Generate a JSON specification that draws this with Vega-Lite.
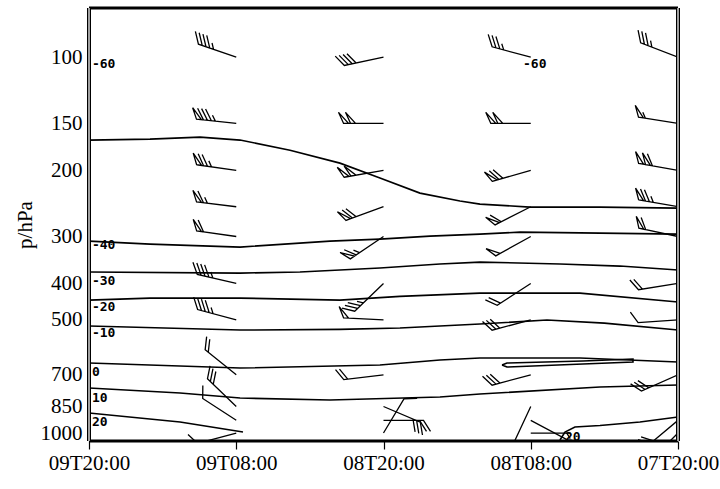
{
  "$schema": "https://vega.github.io/schema/vega-lite/v6.json",
  "width": 589,
  "height": 433,
  "autosize": {"type": "none"},
  "padding": {"left": 89, "top": 8, "right": 42, "bottom": 48},
  "background": "white",
  "config": {
    "view": {"stroke": null},
    "axis": {"grid": false}
  },
  "datasets": {
    "frame": [{"edge": "frame"}],
    "contours": [
      {"id": "m50", "i": 0, "t": 0, "p": 166.2},
      {"id": "m50", "i": 1, "t": 4.97, "p": 165.2},
      {"id": "m50", "i": 2, "t": 9.05, "p": 163.2},
      {"id": "m50", "i": 3, "t": 12.31, "p": 166.2},
      {"id": "m50", "i": 4, "t": 16.38, "p": 176.8},
      {"id": "m50", "i": 5, "t": 20.45, "p": 191.4},
      {"id": "m50", "i": 6, "t": 23.71, "p": 209.8},
      {"id": "m50", "i": 7, "t": 26.97, "p": 230},
      {"id": "m50", "i": 8, "t": 30.23, "p": 241.5},
      {"id": "m50", "i": 9, "t": 31.86, "p": 246},
      {"id": "m50", "i": 10, "t": 35.94, "p": 250.6},
      {"id": "m50", "i": 11, "t": 41.64, "p": 250.6},
      {"id": "m50", "i": 12, "t": 48, "p": 252.1},
      {"id": "m40", "i": 0, "t": 0, "p": 308.6},
      {"id": "m40", "i": 1, "t": 4.97, "p": 314.3},
      {"id": "m40", "i": 2, "t": 12.31, "p": 320.1},
      {"id": "m40", "i": 3, "t": 19.64, "p": 308.6},
      {"id": "m40", "i": 4, "t": 23.71, "p": 304.8},
      {"id": "m40", "i": 5, "t": 27.79, "p": 299.3},
      {"id": "m40", "i": 6, "t": 31.86, "p": 295.6},
      {"id": "m40", "i": 7, "t": 35.12, "p": 292},
      {"id": "m40", "i": 8, "t": 41.64, "p": 293.8},
      {"id": "m40", "i": 9, "t": 48, "p": 295.6},
      {"id": "m30", "i": 0, "t": 0, "p": 373},
      {"id": "m30", "i": 1, "t": 12.31, "p": 375.4},
      {"id": "m30", "i": 2, "t": 17.19, "p": 373},
      {"id": "m30", "i": 3, "t": 23.71, "p": 364},
      {"id": "m30", "i": 4, "t": 28.6, "p": 355.2},
      {"id": "m30", "i": 5, "t": 31.86, "p": 350.9},
      {"id": "m30", "i": 6, "t": 38.38, "p": 355.2},
      {"id": "m30", "i": 7, "t": 43.27, "p": 359.6},
      {"id": "m30", "i": 8, "t": 48, "p": 368.5},
      {"id": "m20", "i": 0, "t": 0, "p": 442.9},
      {"id": "m20", "i": 1, "t": 4.97, "p": 437.5},
      {"id": "m20", "i": 2, "t": 12.31, "p": 437.5},
      {"id": "m20", "i": 3, "t": 20.45, "p": 442.9},
      {"id": "m20", "i": 4, "t": 25.34, "p": 433},
      {"id": "m20", "i": 5, "t": 31.86, "p": 424.3},
      {"id": "m20", "i": 6, "t": 40.01, "p": 424.3},
      {"id": "m20", "i": 7, "t": 48, "p": 448.3},
      {"id": "m10", "i": 0, "t": 0, "p": 519.3},
      {"id": "m10", "i": 1, "t": 12.31, "p": 532.2},
      {"id": "m10", "i": 2, "t": 20.45, "p": 530},
      {"id": "m10", "i": 3, "t": 25.34, "p": 525.7},
      {"id": "m10", "i": 4, "t": 31.86, "p": 513},
      {"id": "m10", "i": 5, "t": 37.32, "p": 500.5},
      {"id": "m10", "i": 6, "t": 42, "p": 510},
      {"id": "m10", "i": 7, "t": 48, "p": 532.2},
      {"id": "z0", "i": 0, "t": 0, "p": 651.3},
      {"id": "z0", "i": 1, "t": 12.31, "p": 671.6},
      {"id": "z0", "i": 2, "t": 23.71, "p": 659.4},
      {"id": "z0", "i": 3, "t": 28.6, "p": 639.5},
      {"id": "z0", "i": 4, "t": 31.86, "p": 631.7},
      {"id": "z0", "i": 5, "t": 40.01, "p": 631.7},
      {"id": "z0", "i": 6, "t": 48, "p": 647.4},
      {"id": "z0loop", "i": 0, "t": 33.66, "p": 659.4},
      {"id": "z0loop", "i": 1, "t": 34.06, "p": 651.3},
      {"id": "z0loop", "i": 2, "t": 40.26, "p": 643},
      {"id": "z0loop", "i": 3, "t": 44.33, "p": 635.6},
      {"id": "z0loop", "i": 4, "t": 44.33, "p": 647.4},
      {"id": "z0loop", "i": 5, "t": 40.26, "p": 655},
      {"id": "z0loop", "i": 6, "t": 34.06, "p": 667.5},
      {"id": "z0loop", "i": 7, "t": 33.66, "p": 659.4},
      {"id": "p10", "i": 0, "t": 0, "p": 759.1},
      {"id": "p10", "i": 1, "t": 7.42, "p": 782.8},
      {"id": "p10", "i": 2, "t": 12.31, "p": 807.2},
      {"id": "p10", "i": 3, "t": 19.64, "p": 817.1},
      {"id": "p10", "i": 4, "t": 28.6, "p": 802.2},
      {"id": "p10", "i": 5, "t": 31.86, "p": 787.6},
      {"id": "p10", "i": 6, "t": 41.64, "p": 754.5},
      {"id": "p10", "i": 7, "t": 48, "p": 745.4},
      {"id": "p20a", "i": 0, "t": 0, "p": 884.7},
      {"id": "p20a", "i": 1, "t": 7.42, "p": 934.8},
      {"id": "p20a", "i": 2, "t": 12.55, "p": 993.9},
      {"id": "p20b", "i": 0, "t": 38.38, "p": 1043.8},
      {"id": "p20b", "i": 1, "t": 38.79, "p": 993.9},
      {"id": "p20b", "i": 2, "t": 39.6, "p": 963.8},
      {"id": "p20b", "i": 3, "t": 41.64, "p": 955},
      {"id": "p20b", "i": 4, "t": 44.9, "p": 935},
      {"id": "p20b", "i": 5, "t": 48, "p": 906.6}
    ],
    "labels": [
      {"t": 0.24, "p": 104.4, "text": "-60"},
      {"t": 0.24, "p": 316.2, "text": "-40"},
      {"t": 0.24, "p": 394.2, "text": "-30"},
      {"t": 0.24, "p": 462.2, "text": "-20"},
      {"t": 0.24, "p": 542, "text": "-10"},
      {"t": 0.24, "p": 688.3, "text": "0"},
      {"t": 0.24, "p": 807, "text": "10"},
      {"t": 0.24, "p": 934.7, "text": "20"},
      {"t": 35.37, "p": 104.4, "text": "-60"},
      {"t": 38.79, "p": 1025, "text": "20"}
    ],
    "barbs": [
      {"t": 12, "p": 100, "dir": 289, "spd": 18},
      {"t": 12, "p": 150, "dir": 276, "spd": 34},
      {"t": 12, "p": 200, "dir": 278, "spd": 30},
      {"t": 12, "p": 250, "dir": 277, "spd": 26},
      {"t": 12, "p": 300, "dir": 278, "spd": 24},
      {"t": 12, "p": 400, "dir": 283, "spd": 18},
      {"t": 12, "p": 500, "dir": 285, "spd": 18},
      {"t": 12, "p": 700, "dir": 309, "spd": 8},
      {"t": 12, "p": 850, "dir": 314, "spd": 12},
      {"t": 12, "p": 925, "dir": 303, "spd": 4},
      {"t": 12, "p": 1000, "dir": 255, "spd": 4},
      {"t": 24, "p": 100, "dir": 258, "spd": 16},
      {"t": 24, "p": 150, "dir": 270, "spd": 40},
      {"t": 24, "p": 200, "dir": 260, "spd": 40},
      {"t": 24, "p": 250, "dir": 250, "spd": 28},
      {"t": 24, "p": 300, "dir": 236, "spd": 26},
      {"t": 24, "p": 400, "dir": 226, "spd": 14},
      {"t": 24, "p": 500, "dir": 273, "spd": 20},
      {"t": 24, "p": 700, "dir": 263, "spd": 8},
      {"t": 24, "p": 850, "dir": 113, "spd": 12},
      {"t": 24, "p": 925, "dir": 90, "spd": 8},
      {"t": 24, "p": 1000, "dir": 31, "spd": 4},
      {"t": 36, "p": 100, "dir": 285, "spd": 14},
      {"t": 36, "p": 150, "dir": 270, "spd": 40},
      {"t": 36, "p": 200, "dir": 254, "spd": 28},
      {"t": 36, "p": 250, "dir": 243, "spd": 24},
      {"t": 36, "p": 300, "dir": 241, "spd": 20},
      {"t": 36, "p": 400, "dir": 237, "spd": 8},
      {"t": 36, "p": 500, "dir": 255, "spd": 12},
      {"t": 36, "p": 700, "dir": 255, "spd": 12},
      {"t": 36, "p": 850, "dir": 205, "spd": 4},
      {"t": 36, "p": 925, "dir": 118, "spd": 4},
      {"t": 36, "p": 1000, "dir": 90, "spd": 2},
      {"t": 48, "p": 100, "dir": 291, "spd": 14},
      {"t": 48, "p": 150, "dir": 279, "spd": 22},
      {"t": 48, "p": 200, "dir": 280, "spd": 44},
      {"t": 48, "p": 250, "dir": 280, "spd": 30},
      {"t": 48, "p": 300, "dir": 282, "spd": 24},
      {"t": 48, "p": 400, "dir": 261, "spd": 8},
      {"t": 48, "p": 500, "dir": 266, "spd": 4},
      {"t": 48, "p": 700, "dir": 246, "spd": 12},
      {"t": 48, "p": 925, "dir": 230, "spd": 12},
      {"t": 48, "p": 1000, "dir": 225, "spd": 8}
    ]
  },
  "layer": [
    {
      "data": {"name": "contours"},
      "mark": {"type": "line", "color": "black", "strokeWidth": 1.6, "clip": true},
      "encoding": {
        "x": {
          "field": "t", "type": "quantitative", "title": null,
          "scale": {"domain": [0, 48], "nice": false, "zero": false},
          "axis": {
            "values": [0, 12, 24, 36, 48],
            "labelExpr": "datum.value == 0 ? '09T20:00' : datum.value == 12 ? '09T08:00' : datum.value == 24 ? '08T20:00' : datum.value == 36 ? '08T08:00' : '07T20:00'",
            "labelFont": "Liberation Serif", "labelFontSize": 21, "labelColor": "black",
            "labelFlush": false, "labelOverlap": false, "labelPadding": 3,
            "domain": false, "ticks": true, "tickColor": "black", "tickSize": 8, "tickWidth": 1.2
          }
        },
        "y": {
          "field": "p", "type": "quantitative", "title": "p/hPa",
          "scale": {"type": "log", "domain": [74, 1050], "nice": false, "reverse": true},
          "axis": {
            "titleFont": "Liberation Serif", "titleFontSize": 21,
            "titleFontWeight": "normal", "titleColor": "black", "titlePadding": 5,
            "values": [100, 150, 200, 300, 400, 500, 700, 850, 1000], "format": "d",
            "labelFont": "Liberation Serif", "labelFontSize": 21, "labelColor": "black",
            "labelPadding": 7, "labelOverlap": false, "labelFlush": false,
            "domain": false, "ticks": false
          }
        },
        "detail": {"field": "id", "type": "nominal"},
        "order": {"field": "i", "type": "quantitative"}
      }
    },
    {
      "data": {"name": "labels"},
      "mark": {"type": "text", "align": "left", "baseline": "middle", "font": "DejaVu Sans Mono", "fontWeight": "bold", "fontSize": 13, "color": "black"},
      "encoding": {
        "x": {"field": "t", "type": "quantitative", "title": null},
        "y": {"field": "p", "type": "quantitative", "title": "p/hPa"},
        "text": {"field": "text", "type": "nominal"}
      }
    },
    {
      "data": {"name": "barbs"},
      "mark": {"type": "point", "filled": false, "color": "black", "strokeWidth": 1.3, "size": 400, "opacity": 1, "clip": true},
      "encoding": {
        "x": {"field": "t", "type": "quantitative", "title": null},
        "y": {"field": "p", "type": "quantitative", "title": "p/hPa"},
        "angle": {"field": "dir", "type": "quantitative", "scale": {"domain": [0, 360], "range": [0, 360]}},
        "shape": {
          "field": "spd", "type": "nominal", "legend": null,
          "scale": {
            "domain": [2, 4, 6, 8, 10, 12, 14, 16, 18, 20, 22, 24, 26, 28, 30, 32, 34, 36, 40, 44],
            "range": [
              "M0,0L0,-4M0,-3.6L0.55,-3.95",
              "M0,0L0,-4L1.1,-4.7",
              "M0,0L0,-4L1.1,-4.7M0,-3.6L0.55,-3.95",
              "M0,0L0,-4L1.1,-4.7M0,-3.6L1.1,-4.3",
              "M0,0L0,-4L1.1,-4.7M0,-3.6L1.1,-4.3M0,-3.2L0.55,-3.55",
              "M0,0L0,-4L1.1,-4.7M0,-3.6L1.1,-4.3M0,-3.2L1.1,-3.9",
              "M0,0L0,-4L1.1,-4.7M0,-3.6L1.1,-4.3M0,-3.2L1.1,-3.9M0,-2.8L0.55,-3.15",
              "M0,0L0,-4L1.1,-4.7M0,-3.6L1.1,-4.3M0,-3.2L1.1,-3.9M0,-2.8L1.1,-3.5",
              "M0,0L0,-4L1.1,-4.7M0,-3.6L1.1,-4.3M0,-3.2L1.1,-3.9M0,-2.8L1.1,-3.5M0,-2.4L0.55,-2.75",
              "M0,0L0,-4M0,-4L1.1,-4.5L0,-3.5Z",
              "M0,0L0,-4M0,-4L1.1,-4.5L0,-3.5ZM0,-3.3L0.55,-3.65",
              "M0,0L0,-4M0,-4L1.1,-4.5L0,-3.5ZM0,-3.3L1.1,-4",
              "M0,0L0,-4M0,-4L1.1,-4.5L0,-3.5ZM0,-3.3L1.1,-4M0,-2.9L0.55,-3.25",
              "M0,0L0,-4M0,-4L1.1,-4.5L0,-3.5ZM0,-3.3L1.1,-4M0,-2.9L1.1,-3.6",
              "M0,0L0,-4M0,-4L1.1,-4.5L0,-3.5ZM0,-3.3L1.1,-4M0,-2.9L1.1,-3.6M0,-2.5L0.55,-2.85",
              "M0,0L0,-4M0,-4L1.1,-4.5L0,-3.5ZM0,-3.3L1.1,-4M0,-2.9L1.1,-3.6M0,-2.5L1.1,-3.2",
              "M0,0L0,-4M0,-4L1.1,-4.5L0,-3.5ZM0,-3.3L1.1,-4M0,-2.9L1.1,-3.6M0,-2.5L1.1,-3.2M0,-2.1L0.55,-2.45",
              "M0,0L0,-4M0,-4L1.1,-4.5L0,-3.5ZM0,-3.3L1.1,-4M0,-2.9L1.1,-3.6M0,-2.5L1.1,-3.2M0,-2.1L1.1,-2.8",
              "M0,0L0,-4M0,-4L1.1,-4.5L0,-3.5ZM0,-3.3L1.1,-3.8L0,-2.8Z",
              "M0,0L0,-4M0,-4L1.1,-4.5L0,-3.5ZM0,-3.3L1.1,-3.8L0,-2.8ZM0,-2.6L1.1,-3.3"
            ]
          }
        }
      }
    },
    {
      "data": {"name": "frame"},
      "mark": {"type": "rule", "color": "black", "strokeWidth": 3},
      "encoding": {"y": {"datum": 74, "type": "quantitative"}}
    },
    {
      "data": {"name": "frame"},
      "mark": {"type": "rule", "color": "black", "strokeWidth": 3},
      "encoding": {"y": {"datum": 1050, "type": "quantitative"}}
    },
    {
      "data": {"name": "frame"},
      "mark": {"type": "rule", "color": "black", "strokeWidth": 4},
      "encoding": {"x": {"datum": 0, "type": "quantitative"}}
    },
    {
      "data": {"name": "frame"},
      "mark": {"type": "rule", "color": "black", "strokeWidth": 4},
      "encoding": {"x": {"datum": 48, "type": "quantitative"}}
    },
    {
      "data": {"name": "frame"},
      "mark": {"type": "rule", "color": "#a0a0a0", "strokeWidth": 2},
      "encoding": {"x": {"datum": 0, "type": "quantitative"}}
    },
    {
      "data": {"name": "frame"},
      "mark": {"type": "rule", "color": "#a0a0a0", "strokeWidth": 2},
      "encoding": {"x": {"datum": 48, "type": "quantitative"}}
    }
  ]
}
